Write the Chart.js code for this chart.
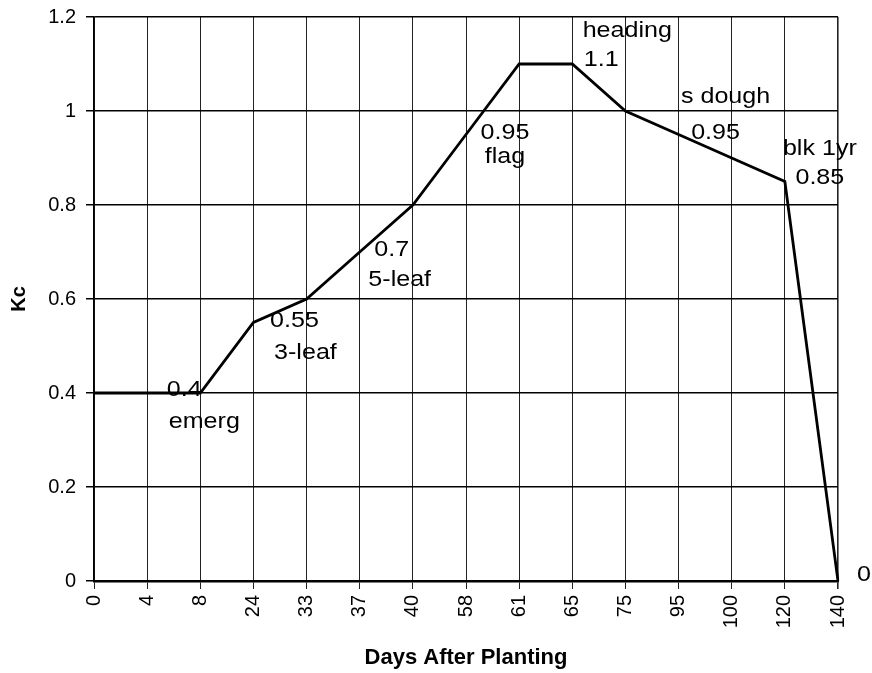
<!DOCTYPE html>
<html>
<head>
<meta charset="utf-8">
<script src="https://cdn.jsdelivr.net/npm/chart.js@4/dist/chart.umd.min.js"></script>
<style>
  html, body { margin: 0; padding: 0; background: #fff; }
  #wrap { width: 872px; height: 673px; }
</style>
</head>
<body>
<div id="wrap"><canvas id="c" width="872" height="673"></canvas></div>
<script>
// ---- data ----
const days = ["0","4","8","24","33","37","40","58","61","65","75","95","100","120","140"];
const kc = [0.4, 0.4, 0.4, 0.55, 0.6, 0.7, 0.8, 0.95, 1.1, 1.1, 1.0, 0.95, 0.9, 0.85, 0];
const yTicks = [0, 0.2, 0.4, 0.6, 0.8, 1, 1.2];
const stageNames = ["emerg", "3-leaf", "5-leaf", "flag", "heading", "s dough", "blk 1yr"];
const stageIndex = [2, 3, 5, 7, 9, 11, 13];
const zeroLabelIndex = 14;

// ---- label placement (pixel offsets from the point) ----
const valueOffsets = [[-16,-3],[41,-2],[32,-2],[39,-2],[29,-4],[37,-2],[35,-4]];
const nameOffsets  = [[4,29],[52,30],[40,28],[39,22],[55,-33],[47,-38],[35,-33]];
const zeroOffset = [26,-6];

const FONT = "Arial, 'Liberation Sans', Helvetica, sans-serif";
const STRETCH = 1.14;

const labelPlugin = {
  id: 'pointLabels',
  afterDatasetsDraw(chart) {
    const ctx = chart.ctx;
    const xs = chart.scales.x, ys = chart.scales.y;
    const put = (txt, x, y) => {
      ctx.save();
      ctx.translate(x, y);
      ctx.scale(STRETCH, 1);
      ctx.fillText(txt, 0, 0);
      ctx.restore();
    };
    ctx.save();
    ctx.fillStyle = '#000';
    ctx.font = '22px ' + FONT;
    ctx.textAlign = 'center';
    ctx.textBaseline = 'middle';
    stageIndex.forEach((idx, k) => {
      const px = xs.getPixelForValue(idx);
      const py = ys.getPixelForValue(kc[idx]);
      put(String(kc[idx]), px + valueOffsets[k][0], py + valueOffsets[k][1]);
      put(stageNames[k], px + nameOffsets[k][0], py + nameOffsets[k][1]);
    });
    const zx = xs.getPixelForValue(zeroLabelIndex);
    const zy = ys.getPixelForValue(kc[zeroLabelIndex]);
    put(String(kc[zeroLabelIndex]), zx + zeroOffset[0], zy + zeroOffset[1]);
    ctx.restore();
  }
};

new Chart(document.getElementById('c'), {
  type: 'line',
  data: {
    labels: days,
    datasets: [{
      data: kc,
      borderColor: '#000',
      borderWidth: 2.8,
      pointRadius: 0,
      tension: 0,
      fill: false
    }]
  },
  options: {
    responsive: false,
    animation: false,
    devicePixelRatio: 1,
    layout: { padding: { top: 17, right: 34, left: 0, bottom: 0 } },
    plugins: {
      legend: { display: false },
      tooltip: { enabled: false }
    },
    scales: {
      x: {
        type: 'category',
        offset: false,
        grid: {
          color: '#222',
          lineWidth: (c) => (c.index === days.length - 1 ? 1.6 : 1),
          tickLength: 8,
          drawTicks: true
        },
        border: { color: '#000', width: 2.4 },
        ticks: {
          color: '#000',
          font: { family: FONT, size: 20 },
          minRotation: 90,
          maxRotation: 90,
          padding: 6,
          autoSkip: false
        },
        title: {
          display: true,
          text: 'Days After Planting',
          color: '#000',
          font: { family: FONT, size: 22, weight: 'bold' },
          padding: { top: 0, bottom: 2 }
        },
        afterFit(scale) { scale.height = 92; }
      },
      y: {
        min: 0,
        max: 1.2,
        afterBuildTicks(scale) { scale.ticks = yTicks.map(v => ({ value: v })); },
        grid: {
          color: '#000',
          lineWidth: 1.5,
          tickLength: 8
        },
        border: { color: '#000', width: 1.6 },
        ticks: {
          color: '#000',
          font: { family: FONT, size: 20 },
          padding: 10,
          callback: (v) => String(Math.round(v * 10) / 10)
        },
        title: {
          display: true,
          text: 'Kc',
          color: '#000',
          font: { family: FONT, size: 20, weight: 'bold' },
          padding: { top: 7, bottom: 0 }
        },
        afterFit(scale) {
          scale.width = 94;
          scale.paddingTop = 0;
          scale.paddingBottom = 0;
        }
      }
    }
  },
  plugins: [labelPlugin]
});
</script>
</body>
</html>
